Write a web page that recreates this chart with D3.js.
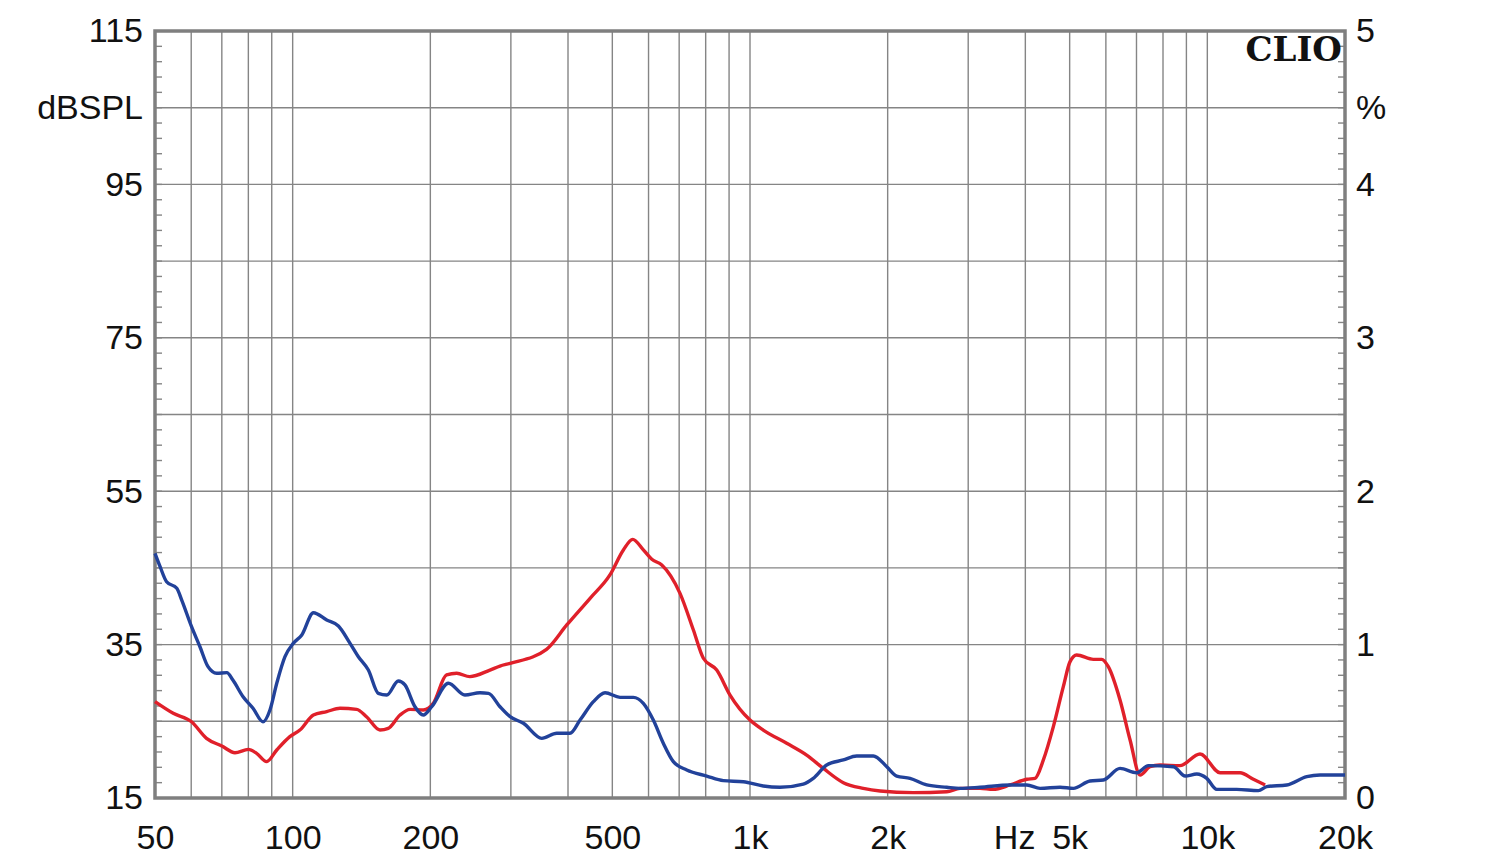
<!DOCTYPE html>
<html>
<head>
<meta charset="utf-8">
<script src="https://cdn.jsdelivr.net/npm/d3@7"></script>
<style>
  html, body { margin: 0; padding: 0; background: #fff; }
  svg { display: block; }
  text { font-family: "Liberation Sans", Arial, sans-serif; fill: #111; }
</style>
</head>
<body>
<svg id="chart" width="1500" height="864"></svg>
<script>
// ---- data (distortion in %) ----
const blueFreq = [50,51.3,53,55.8,57.2,60.1,62.7,65.3,68.2,71.8,74,77.9,81.9,86.1,89.2,92.3,96.2,100.3,104.7,111,118.7,125.9,133.5,139.2,146.4,153.9,160.6,170.2,176,185.1,193,201.4,219,238,256.8,268,284,298.8,319.5,350.5,377.9,404,425,454.5,482,519.7,555.7,584.5,614.6,646.3,679.8,727.3,804.3,874.5,967,1069,1163,1308,1375,1471,1600,1711,1861,1991,2093,2238,2435,2693,2880,3184,3704,4030,4308,4764,5093,5540,5924,6443,7008,7431,8431,8942,9484,9970,10484,11594,12929,13489,14916,16498,17640,18710,20000];
const bluePct  = [1.595,1.508,1.41,1.367,1.29,1.117,0.986,0.856,0.813,0.817,0.769,0.66,0.585,0.497,0.574,0.748,0.921,1.008,1.063,1.208,1.16,1.121,1.008,0.921,0.834,0.682,0.671,0.763,0.737,0.595,0.541,0.595,0.748,0.671,0.686,0.682,0.595,0.53,0.487,0.389,0.422,0.422,0.508,0.628,0.686,0.656,0.656,0.617,0.508,0.357,0.237,0.183,0.143,0.113,0.106,0.078,0.07,0.091,0.128,0.215,0.248,0.274,0.274,0.204,0.143,0.128,0.085,0.07,0.063,0.07,0.085,0.085,0.063,0.07,0.063,0.111,0.117,0.193,0.165,0.211,0.204,0.143,0.156,0.128,0.056,0.056,0.048,0.074,0.085,0.139,0.15,0.15,0.15];

const redFreq = [50,54.8,60.1,64.8,70,74.8,80,83.4,87.7,92.3,98.6,103.7,111,118.7,126.9,138,145,155.2,161.8,171.7,180.6,193,203,217,228.4,244,270,284,298.8,359,397.5,447,494,528.6,554,584.5,610,641.4,703,752,790.7,845.8,904.4,1000,1069,1203,1330,1447,1600,1769,1925,2276,2693,2880,3184,3400,3704,4030,4200,4380,4606,4843,5010,5180,5633,5878,6074,6443,6778,7127,7493,7880,8714,9639,10663,11790,12608,13375];
const redPct  = [0.628,0.552,0.497,0.389,0.339,0.295,0.317,0.291,0.237,0.313,0.4,0.443,0.541,0.563,0.585,0.578,0.53,0.443,0.454,0.541,0.578,0.574,0.617,0.802,0.813,0.791,0.834,0.86,0.878,0.969,1.128,1.302,1.454,1.617,1.686,1.617,1.556,1.519,1.334,1.095,0.911,0.834,0.671,0.508,0.443,0.357,0.28,0.193,0.1,0.063,0.046,0.035,0.041,0.063,0.063,0.056,0.085,0.122,0.128,0.248,0.465,0.726,0.889,0.932,0.904,0.904,0.856,0.639,0.378,0.15,0.204,0.215,0.211,0.287,0.165,0.165,0.122,0.085];

const xTickValues = [50,100,200,500,1000,2000,3780,5000,10000,20000];
const xTickLabels = ["50","100","200","500","1k","2k","Hz","5k","10k","20k"];
const xGridValues = [60,70,80,90,100,200,300,400,500,600,700,800,900,1000,2000,3000,4000,5000,6000,7000,8000,9000,10000];
const leftTickValues = [15,35,55,75,95,105,115];
const leftTickLabels = ["15","35","55","75","95","dBSPL","115"];
const rightTickValues = [0,1,2,3,4,4.5,5];
const rightTickLabels = ["0","1","2","3","4","%","5"];
const yGridValues = [25,35,45,55,65,75,85,95,105];

// ---- layout ----
const L = 155, R = 1345, T = 31, B = 798;
const svg = d3.select("#chart");
const x = d3.scaleLog().domain([50, 20000]).range([L, R]);
const yL = d3.scaleLinear().domain([15, 115]).range([B, T]);
const yR = d3.scaleLinear().domain([0, 5]).range([B, T]);

const gridColor = "#858585";
// vertical grid
svg.append("g").selectAll("line").data(xGridValues).join("line")
  .attr("x1", d => x(d)).attr("x2", d => x(d))
  .attr("y1", T).attr("y2", B)
  .attr("stroke", gridColor).attr("stroke-width", 1.4);
// horizontal grid
svg.append("g").selectAll("line").data(yGridValues).join("line")
  .attr("x1", L).attr("x2", R)
  .attr("y1", d => yL(d)).attr("y2", d => yL(d))
  .attr("stroke", gridColor).attr("stroke-width", 1.4);

// minor ticks (left every 2 dB, right every 0.1 %)
const leftMinor = d3.range(17, 115, 2);
svg.append("g").selectAll("line").data(leftMinor).join("line")
  .attr("x1", L).attr("x2", L + 7)
  .attr("y1", d => yL(d)).attr("y2", d => yL(d))
  .attr("stroke", gridColor).attr("stroke-width", 1.4);
const rightMinor = d3.range(1, 50).map(i => i / 10);
svg.append("g").selectAll("line").data(rightMinor).join("line")
  .attr("x1", R - 7).attr("x2", R)
  .attr("y1", d => yR(d)).attr("y2", d => yR(d))
  .attr("stroke", gridColor).attr("stroke-width", 1.4);

// frame
svg.append("rect").attr("x", L).attr("y", T).attr("width", R - L).attr("height", B - T)
  .attr("fill", "none").attr("stroke", "#7f7f7f").attr("stroke-width", 3.5);

// curves
const lineBlue = d3.line().x((d, i) => x(blueFreq[i])).y(d => yR(d)).curve(d3.curveMonotoneX);
const lineRed = d3.line().x((d, i) => x(redFreq[i])).y(d => yR(d)).curve(d3.curveMonotoneX);
svg.append("path").datum(redPct).attr("d", lineRed)
  .attr("fill", "none").attr("stroke", "#e0202a").attr("stroke-width", 3.4).attr("stroke-linejoin", "round");
svg.append("path").datum(bluePct).attr("d", lineBlue)
  .attr("fill", "none").attr("stroke", "#22429a").attr("stroke-width", 3.4).attr("stroke-linejoin", "round");

// axes labels
const fs = 34;
const axL = d3.axisLeft(yL).tickValues(leftTickValues).tickSize(0).tickPadding(12)
  .tickFormat((d, i) => leftTickLabels[i]);
const gL = svg.append("g").attr("transform", `translate(${L},0)`).call(axL);
gL.select(".domain").remove();
gL.selectAll("text").style("font-size", fs + "px").attr("fill", "#111")
  .style("font-family", "'Liberation Sans', Arial, sans-serif");

const axR = d3.axisRight(yR).tickValues(rightTickValues).tickSize(0).tickPadding(11)
  .tickFormat((d, i) => rightTickLabels[i]);
const gR = svg.append("g").attr("transform", `translate(${R},0)`).call(axR);
gR.select(".domain").remove();
gR.selectAll("text").style("font-size", fs + "px").attr("fill", "#111")
  .style("font-family", "'Liberation Sans', Arial, sans-serif");

const axB = d3.axisBottom(x).tickValues(xTickValues).tickSize(0).tickPadding(27)
  .tickFormat((d, i) => xTickLabels[i]);
const gB = svg.append("g").attr("transform", `translate(0,${B})`).call(axB);
gB.select(".domain").remove();
gB.selectAll("text").style("font-size", fs + "px").attr("fill", "#111")
  .style("font-family", "'Liberation Sans', Arial, sans-serif");

// CLIO logo
svg.append("text").attr("x", R - 3).attr("y", 61).attr("text-anchor", "end")
  .style("font-family", "'DejaVu Serif', 'Liberation Serif', serif")
  .style("font-weight", "bold").style("font-size", "34px").attr("fill", "#111")
  .text("CLIO");
</script>
</body>
</html>
